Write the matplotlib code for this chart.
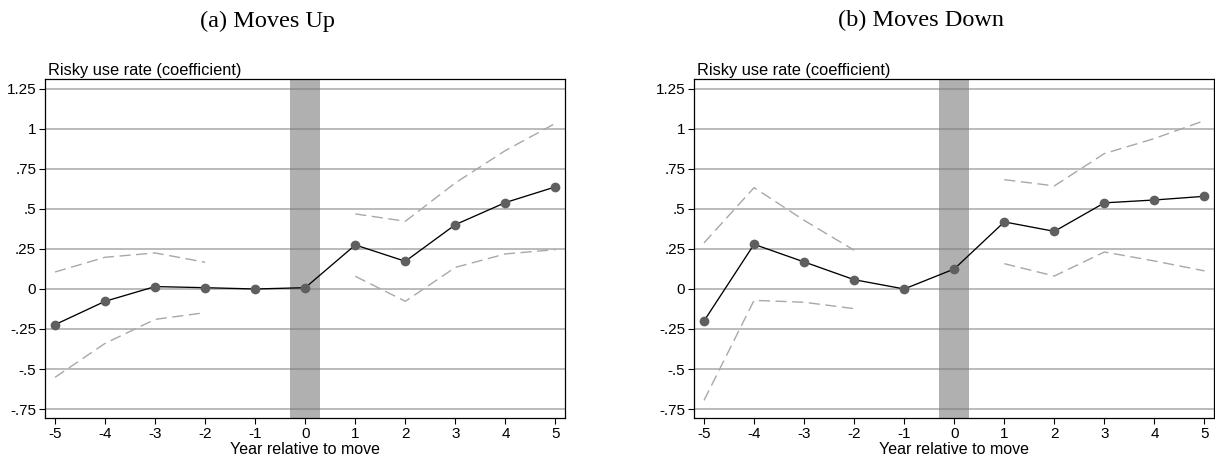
import matplotlib
matplotlib.use("Agg")
import matplotlib.pyplot as plt

years = [-5, -4, -3, -2, -1, 0, 1, 2, 3, 4, 5]
pre_years = [-5, -4, -3, -2]
post_years = [1, 2, 3, 4, 5]

# (a) moves up
up_coef = [-0.223, -0.077, 0.015, 0.008, 0.0, 0.008, 0.275, 0.173, 0.402, 0.54, 0.638]
up_hi_pre = [0.106, 0.198, 0.225, 0.167]
up_lo_pre = [-0.552, -0.34, -0.19, -0.148]
up_hi_post = [0.469, 0.423, 0.663, 0.865, 1.035]
up_lo_post = [0.079, -0.077, 0.135, 0.219, 0.246]

# (b) moves down
down_coef = [-0.2, 0.279, 0.169, 0.058, 0.0, 0.125, 0.419, 0.36, 0.538, 0.556, 0.579]
down_hi_pre = [0.288, 0.633, 0.429, 0.242]
down_lo_pre = [-0.696, -0.071, -0.083, -0.123]
down_hi_post = [0.683, 0.644, 0.846, 0.94, 1.052]
down_lo_post = [0.158, 0.081, 0.231, 0.175, 0.113]

yticks = [-0.75, -0.5, -0.25, 0, 0.25, 0.5, 0.75, 1, 1.25]
ytick_labels = ["-.75", "-.5", "-.25", "0", ".25", ".5", ".75", "1", "1.25"]

plt.rcParams["font.family"] = ["Liberation Sans", "DejaVu Sans"]

W, H = 1215, 461
fig = plt.figure(figsize=(W / 100, H / 100), dpi=100)
ax1 = fig.add_axes([45 / W, 1 - 418.3 / H, 520 / W, 339 / H])
ax2 = fig.add_axes([694 / W, 1 - 418.3 / H, 520 / W, 339 / H])


def draw_panel(ax, coef, hi_pre, lo_pre, hi_post, lo_post):
    ax.axvspan(-0.3, 0.3, color="#b0b0b0", lw=0, zorder=1)
    for y in yticks:
        ax.axhline(y, color="#7a7a7a", alpha=0.55, lw=1.3, zorder=2)
    dash = dict(color="#a8a8a8", lw=1.0, ls=(0, (8, 4)), zorder=3)
    ax.plot(pre_years, hi_pre, **dash)
    ax.plot(pre_years, lo_pre, **dash)
    ax.plot(post_years, hi_post, **dash)
    ax.plot(post_years, lo_post, **dash)
    ax.plot(years, coef, color="black", lw=0.95, zorder=4)
    ax.plot(years, coef, "o", color="#5f5f5f", ms=7, mew=0, zorder=5)

    ax.set_xlim(-5.2, 5.19)
    ax.set_ylim(-0.808, 1.31)
    ax.set_xticks(years)
    ax.set_xticklabels([str(y) for y in years])
    ax.set_yticks(yticks)
    ax.set_yticklabels(ytick_labels)
    ax.tick_params(labelsize=11, length=4.3, width=0.8, direction="out", pad=2)
    for s in ax.spines.values():
        s.set_linewidth(0.9)
    ax.set_xlabel("Year relative to move", fontsize=11.5, labelpad=1)
    ax.text(0.006, 1.012, "Risky use rate (coefficient)", transform=ax.transAxes,
            fontsize=11.8, ha="left", va="baseline")


draw_panel(ax1, up_coef, up_hi_pre, up_lo_pre, up_hi_post, up_lo_post)
draw_panel(ax2, down_coef, down_hi_pre, down_lo_pre, down_hi_post, down_lo_post)

fig.text(268 / W, 1 - 26.5 / H, "(a) Moves Up", fontsize=17.5,
         family="Liberation Serif", ha="center", va="baseline")
fig.text(921 / W, 1 - 26.5 / H, "(b) Moves Down", fontsize=17.5,
         family="Liberation Serif", ha="center", va="baseline")

fig.savefig("out.png", dpi=100)
